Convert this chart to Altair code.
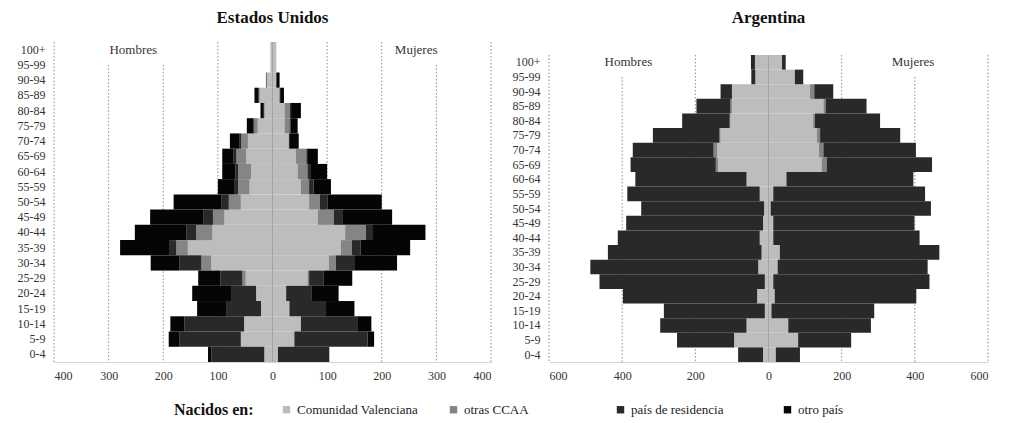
import altair as alt
import pandas as pd

FONT = "Liberation Serif"

AGES = ["0-4", "5-9", "10-14", "15-19", "20-24", "25-29", "30-34", "35-39",
        "40-44", "45-49", "50-54", "55-59", "60-64", "65-69", "70-74", "75-79",
        "80-84", "85-89", "90-94", "95-99", "100+"]
AGES_TOP_DOWN = AGES[::-1]
ORIGINS = ["Comunidad Valenciana", "otras CCAA", "país de residencia", "otro país"]
COLORS = ["#bdbdbd", "#858585", "#292929", "#050505"]

# ---- Estados Unidos: Hombres (values per age group, 0-4 ... 100+)
us_m_cv    = [15, 58, 52, 21, 30, 49, 112, 155, 110, 88, 58, 42, 39, 48, 45, 27, 15, 24, 11, 4, 4]
us_m_otras = [0, 0, 0, 0, 0, 6, 18, 21, 30, 21, 22, 21, 24, 18, 12, 6, 0, 0, 0, 0, 0]
us_m_pais  = [97, 112, 109, 64, 46, 40, 40, 12, 18, 18, 14, 6, 5, 5, 3, 2, 1, 2, 0, 0, 0]
us_m_otro  = [6, 20, 26, 53, 71, 41, 53, 91, 94, 97, 87, 31, 24, 21, 18, 12, 6, 7, 1, 0, 0]
# ---- Estados Unidos: Mujeres
us_f_cv    = [10, 40, 52, 31, 25, 64, 103, 125, 133, 83, 67, 52, 46, 43, 30, 22, 22, 13, 7, 7, 7]
us_f_otras = [0, 0, 0, 0, 0, 3, 13, 20, 38, 29, 20, 15, 18, 19, 0, 9, 10, 0, 0, 0, 0]
us_f_pais  = [94, 134, 103, 67, 46, 27, 35, 16, 13, 17, 14, 8, 5, 3, 2, 2, 2, 1, 0, 0, 0]
us_f_otro  = [0, 12, 26, 52, 50, 52, 77, 91, 96, 90, 99, 32, 31, 18, 16, 13, 18, 7, 6, 0, 0]

# ---- Argentina: Hombres
ar_m_cv    = [15, 94, 60, 10, 31, 10, 28, 19, 24, 15, 12, 24, 60, 138, 140, 131, 104, 100, 100, 36, 37]
ar_m_otras = [0, 0, 0, 0, 0, 0, 0, 0, 0, 0, 0, 0, 0, 6, 10, 3, 2, 4, 0, 0, 0]
ar_m_pais  = [68, 156, 236, 276, 367, 452, 459, 420, 388, 374, 336, 362, 304, 233, 221, 182, 130, 93, 31, 11, 11]
ar_m_otro  = [0] * 21
# ---- Argentina: Mujeres
ar_f_cv    = [20, 81, 54, 8, 17, 13, 25, 31, 13, 13, 6, 13, 49, 145, 138, 132, 122, 150, 113, 72, 37]
ar_f_otras = [0, 0, 0, 0, 0, 0, 0, 0, 0, 0, 0, 0, 0, 14, 12, 9, 5, 6, 12, 0, 0]
ar_f_pais  = [66, 145, 226, 281, 387, 427, 410, 436, 400, 386, 438, 415, 347, 288, 253, 219, 178, 112, 52, 23, 10]
ar_f_otro  = [0] * 21


def long_table(men, women):
    rows = []
    for k, origin in enumerate(ORIGINS):
        for i, age in enumerate(AGES):
            rows.append({"age": age, "origin": origin, "ord": k, "value": -men[k][i]})
            rows.append({"age": age, "origin": origin, "ord": k, "value": women[k][i]})
    return pd.DataFrame(rows)


us_df = long_table([us_m_cv, us_m_otras, us_m_pais, us_m_otro],
                   [us_f_cv, us_f_otras, us_f_pais, us_f_otro])
ar_df = long_table([ar_m_cv, ar_m_otras, ar_m_pais, ar_m_otro],
                   [ar_f_cv, ar_f_otras, ar_f_pais, ar_f_otro])

# gridlines (full height / starting below the Hombres-Mujeres labels)
us_grid_full = [-400, -100, 100, 200, 400]
us_grid_cut = [-300, -200, 300]
us_ticks = [-400, -300, -200, -100, 0, 100, 200, 300, 400]
ar_grid_full = [-600, -200, 200, 600]
ar_grid_cut = [-400, 400]
ar_ticks = [-600, -400, -200, 0, 200, 400, 600]

us_labels = pd.DataFrame({"value": [-255, 263], "age": ["100+", "100+"], "txt": ["Hombres", "Mujeres"]})
ar_labels = pd.DataFrame({"value": [-383, 395], "age": ["100+", "100+"], "txt": ["Hombres", "Mujeres"]})

legend = alt.Legend(
    title="Nacidos en:", orient="none", legendX=120, legendY=361,
    direction="horizontal", columns=4, titleOrient="left",
    titleFont=FONT, titleFontSize=16, titleFontWeight="bold", titleColor="#111",
    titlePadding=26, labelFont=FONT, labelFontSize=13, labelColor="#222",
    symbolType="square", symbolSize=55, symbolStrokeWidth=0, labelOffset=4,
    gridAlign="all", columnPadding=29,
)

H = 320


def panel(df, dom, ticks, grid_full, grid_cut, labels, title, w, top):
    yscale = alt.Scale(domain=AGES_TOP_DOWN, paddingInner=0, paddingOuter=0, range=[top, H])
    xscale = alt.Scale(domain=dom, nice=False, zero=False)
    yaxis = alt.Axis(title=None, ticks=False, domain=False, labelFont=FONT,
                     labelFontSize=12, labelColor="#333", labelPadding=9)
    xaxis = alt.Axis(title=None, values=ticks, labelExpr="abs(datum.value)", grid=False,
                     ticks=False, domainColor="#d4d4d4", labelFont=FONT, labelFontSize=12,
                     labelColor="#333", labelPadding=8)
    bars = alt.Chart(df).mark_bar().encode(
        y=alt.Y("age:N", scale=yscale, axis=yaxis),
        x=alt.X("value:Q", stack="zero", scale=xscale, axis=xaxis),
        color=alt.Color("origin:N", scale=alt.Scale(domain=ORIGINS, range=COLORS), legend=legend),
        order=alt.Order("ord:Q", sort="ascending"),
    )
    gfull = alt.Chart(pd.DataFrame({"value": grid_full})).mark_rule(
        color="#8c8c8c", strokeDash=[1.5, 2], strokeWidth=1
    ).encode(x="value:Q", y=alt.value(top), y2=alt.value(H))
    gcut = alt.Chart(pd.DataFrame({"value": grid_cut, "age": ["95-99"] * len(grid_cut)})).mark_rule(
        color="#8c8c8c", strokeDash=[1.5, 2], strokeWidth=1
    ).encode(x="value:Q", y=alt.Y("age:N"), y2=alt.value(H))
    center = alt.Chart(pd.DataFrame({"value": [0]})).mark_rule(
        color="#a3a3a3", strokeWidth=1
    ).encode(x="value:Q", y=alt.value(top), y2=alt.value(H))
    txt = alt.Chart(labels).mark_text(font=FONT, fontSize=13, color="#333").encode(
        x="value:Q", y=alt.Y("age:N"), text="txt:N")
    return alt.layer(gfull, gcut, bars, center, txt).properties(
        width=w, height=H,
        title=alt.TitleParams(title, font=FONT, fontSize=17, fontWeight="bold",
                              color="#111", offset=15),
    )


left = panel(us_df, [-400, 400], us_ticks, us_grid_full, us_grid_cut, us_labels,
             "Estados  Unidos", 437, 0)
right = panel(ar_df, [-600, 600], ar_ticks, ar_grid_full, ar_grid_cut, ar_labels,
              "Argentina", 439, 13)

chart = alt.hconcat(left, right, spacing=20).resolve_scale(
    x="independent", y="independent", color="shared"
).properties(
    padding={"left": 9, "top": 0, "right": 0, "bottom": 2}
).configure_view(stroke=None)

chart.save("out.html", embed_options={"renderer": "svg", "actions": False})
